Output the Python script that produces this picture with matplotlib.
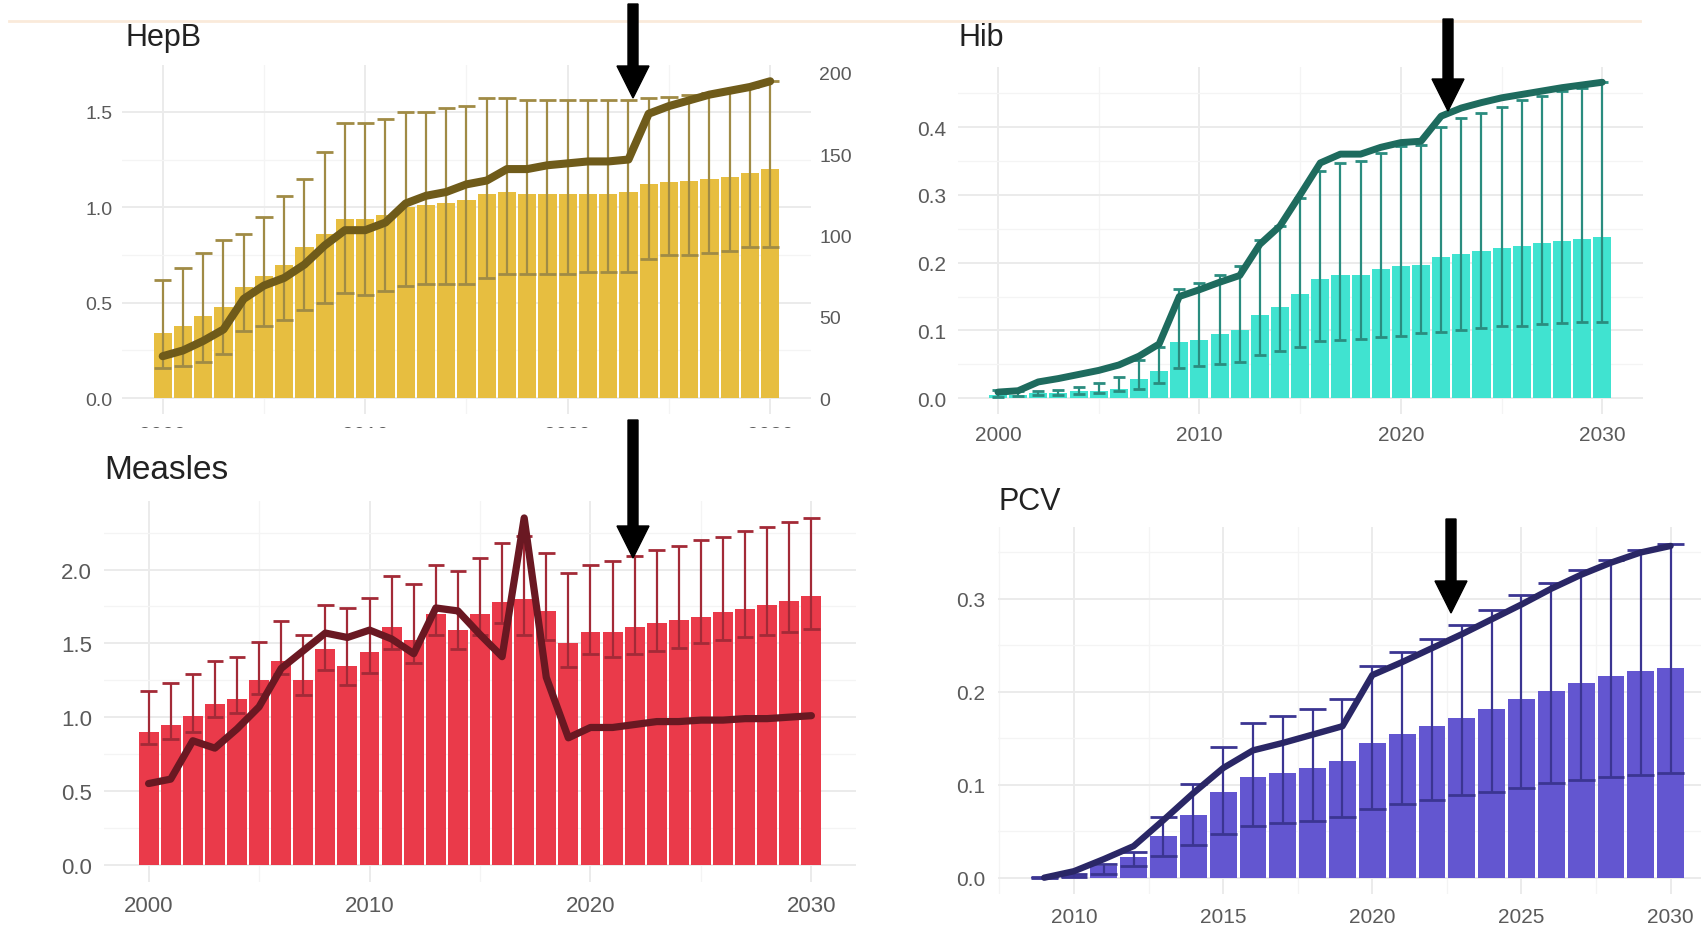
import matplotlib
matplotlib.use("Agg")
import matplotlib.pyplot as plt
from matplotlib.patches import FancyArrow, Rectangle
from matplotlib.lines import Line2D
from matplotlib.ticker import MultipleLocator, FormatStrFormatter
import numpy as np

plt.rcParams['font.family'] = ['Liberation Sans', 'DejaVu Sans']

W, H = 1701, 929

years = np.arange(2000, 2031)
pcvYears = np.arange(2009, 2031)

hepbBars = [0.34, 0.38, 0.43, 0.48, 0.58, 0.64, 0.70, 0.79, 0.86, 0.94, 0.94, 0.96, 1.00, 1.01, 1.02, 1.04,
            1.07, 1.08, 1.07, 1.07, 1.07, 1.07, 1.07, 1.08, 1.12, 1.13, 1.14, 1.15, 1.16, 1.18, 1.20]
hepbUpper = [0.62, 0.68, 0.76, 0.83, 0.86, 0.95, 1.06, 1.15, 1.29, 1.44, 1.44, 1.46, 1.50, 1.50, 1.52, 1.53,
             1.57, 1.57, 1.56, 1.56, 1.56, 1.56, 1.56, 1.56, 1.57, 1.58, 1.59, 1.60, 1.61, 1.63, 1.66]
hepbLower = [0.16, 0.17, 0.19, 0.23, 0.35, 0.38, 0.41, 0.46, 0.50, 0.55, 0.54, 0.56, 0.59, 0.60, 0.60, 0.60,
             0.63, 0.65, 0.65, 0.65, 0.65, 0.66, 0.66, 0.66, 0.73, 0.75, 0.75, 0.76, 0.77, 0.79, 0.79]
hepbLine = [0.22, 0.25, 0.30, 0.36, 0.52, 0.59, 0.63, 0.70, 0.80, 0.88, 0.88, 0.92, 1.02, 1.06, 1.08, 1.12,
            1.14, 1.20, 1.20, 1.22, 1.23, 1.24, 1.24, 1.25, 1.49, 1.53, 1.56, 1.59, 1.61, 1.63, 1.66]

hibBars = [0.005, 0.005, 0.007, 0.008, 0.010, 0.011, 0.013, 0.029, 0.040, 0.083, 0.086, 0.094, 0.100, 0.123,
           0.135, 0.153, 0.176, 0.181, 0.182, 0.190, 0.195, 0.197, 0.208, 0.212, 0.217, 0.222, 0.225, 0.229,
           0.232, 0.235, 0.238]
hibUpper = [0.012, 0.010, 0.011, 0.012, 0.017, 0.022, 0.031, 0.057, 0.076, 0.161, 0.170, 0.182, 0.195, 0.234,
            0.254, 0.295, 0.335, 0.347, 0.350, 0.362, 0.372, 0.374, 0.400, 0.414, 0.421, 0.430, 0.440, 0.446,
            0.453, 0.458, 0.466]
hibLower = [0.002, 0.003, 0.004, 0.005, 0.006, 0.008, 0.011, 0.013, 0.022, 0.044, 0.047, 0.050, 0.054, 0.063,
            0.069, 0.076, 0.085, 0.086, 0.087, 0.090, 0.092, 0.096, 0.098, 0.100, 0.103, 0.106, 0.107, 0.110,
            0.111, 0.112, 0.113]
hibLine = [0.009, 0.011, 0.024, 0.029, 0.035, 0.041, 0.049, 0.062, 0.080, 0.150, 0.160, 0.171, 0.181, 0.227,
           0.254, 0.300, 0.347, 0.360, 0.360, 0.370, 0.377, 0.379, 0.416, 0.428, 0.436, 0.443, 0.448, 0.453,
           0.458, 0.462, 0.466]

measlesBars = [0.90, 0.95, 1.01, 1.09, 1.12, 1.25, 1.38, 1.25, 1.46, 1.35, 1.44, 1.61, 1.52, 1.70, 1.59, 1.70,
               1.78, 1.80, 1.72, 1.50, 1.58, 1.58, 1.61, 1.64, 1.66, 1.68, 1.71, 1.73, 1.76, 1.79, 1.82]
measlesUpper = [1.18, 1.23, 1.29, 1.38, 1.41, 1.51, 1.65, 1.56, 1.76, 1.74, 1.81, 1.96, 1.90, 2.03, 1.99, 2.08,
                2.18, 2.23, 2.11, 1.98, 2.03, 2.06, 2.09, 2.13, 2.16, 2.20, 2.22, 2.26, 2.29, 2.32, 2.35]
measlesLower = [0.82, 0.85, 0.90, 1.00, 1.03, 1.16, 1.29, 1.15, 1.32, 1.22, 1.30, 1.46, 1.37, 1.56, 1.46, 1.56,
                1.64, 1.56, 1.52, 1.34, 1.43, 1.41, 1.43, 1.45, 1.47, 1.50, 1.52, 1.54, 1.56, 1.58, 1.60]
measlesLine = [0.55, 0.58, 0.84, 0.79, 0.92, 1.07, 1.33, 1.45, 1.57, 1.54, 1.59, 1.53, 1.43, 1.74, 1.72, 1.56,
               1.41, 2.35, 1.27, 0.86, 0.93, 0.93, 0.95, 0.97, 0.97, 0.98, 0.98, 0.99, 0.99, 1.00, 1.01]

pcvBars = [0.0005, 0.003, 0.013, 0.022, 0.045, 0.068, 0.092, 0.108, 0.113, 0.118, 0.126, 0.145, 0.155, 0.163,
           0.172, 0.182, 0.192, 0.201, 0.209, 0.217, 0.222, 0.226]
pcvUpper = [0.001, 0.004, 0.015, 0.028, 0.065, 0.101, 0.141, 0.166, 0.174, 0.182, 0.192, 0.228, 0.243, 0.257,
            0.272, 0.288, 0.304, 0.317, 0.331, 0.342, 0.353, 0.359]
pcvLower = [0.0, 0.001, 0.004, 0.013, 0.023, 0.035, 0.047, 0.056, 0.059, 0.061, 0.065, 0.074, 0.079, 0.084,
            0.089, 0.092, 0.096, 0.102, 0.105, 0.108, 0.110, 0.113]
pcvLine = [0.0, 0.007, 0.020, 0.034, 0.062, 0.091, 0.118, 0.137, 0.145, 0.154, 0.163, 0.218, 0.232, 0.247,
           0.262, 0.278, 0.294, 0.311, 0.326, 0.339, 0.350, 0.357]

hepbRightScale = 117.3  # right axis units per left axis unit


def makeAxes(fig, xlim, ylim, xRef, yRef):
    """
    place an axes so two known ticks land on the pixel positions measured in the picture
    """
    (xa, pa), (xb, pb) = xRef
    sx = (pb - pa) / (xb - xa)
    left = pa + (xlim[0] - xa) * sx
    right = pa + (xlim[1] - xa) * sx
    (ya, qa), (yb, qb) = yRef
    sy = (qb - qa) / (yb - ya)
    bottom = qa + (ylim[0] - ya) * sy
    top = qa + (ylim[1] - ya) * sy
    ax = fig.add_axes([left / W, 1 - bottom / H, (right - left) / W, (bottom - top) / H])
    ax.set_xlim(*xlim)
    ax.set_ylim(*ylim)
    for s in ax.spines.values():
        s.set_visible(False)
    ax.set_axisbelow(True)
    ax.grid(which='major', color='#EBEBEB', lw=1.4)
    ax.grid(which='minor', color='#F4F4F4', lw=0.9)
    ax.tick_params(which='both', length=0, labelcolor='#5A5A5A')
    return ax


def drawPanel(ax, xs, bars, lower, upper, line, barColor, errColor, lineColor, capWidth, lineWidth):
    xs = np.array(xs)
    ax.bar(xs, bars, width=0.9, color=barColor, zorder=2)
    ax.vlines(xs, lower, upper, color=errColor, lw=1.6, zorder=3)
    ax.hlines(upper, xs - capWidth / 2, xs + capWidth / 2, color=errColor, lw=2.0, zorder=3)
    ax.hlines(lower, xs - capWidth / 2, xs + capWidth / 2, color=errColor, lw=2.0, zorder=3)
    ax.plot(xs, line, color=lineColor, lw=lineWidth, solid_joinstyle='round', solid_capstyle='round', zorder=4)


def addArrow(fig, x, yTail, yTip):
    arrow = FancyArrow(x / W, 1 - yTail / H, 0, -(yTip - yTail) / H, width=10 / W,
                       head_width=32 / W, head_length=32 / H, length_includes_head=True,
                       transform=fig.transFigure, color='black', zorder=7)
    fig.add_artist(arrow)


fig = plt.figure(figsize=(W / 100, H / 100), dpi=100)

# HepB
ax1 = makeAxes(fig, (1998, 2032), (-0.083, 1.743), ((2000, 162.7), (2030, 770.2)), ((0, 399.2), (1.5, 112.8)))
drawPanel(ax1, years, hepbBars, hepbLower, hepbUpper, hepbLine, '#E7BE40', '#A08B45', '#6F5B1A', 0.85, 5.8)
ax1.xaxis.set_major_locator(MultipleLocator(10))
ax1.xaxis.set_minor_locator(MultipleLocator(5))
ax1.yaxis.set_major_locator(MultipleLocator(0.5))
ax1.yaxis.set_minor_locator(MultipleLocator(0.25))
ax1.yaxis.set_major_formatter(FormatStrFormatter('%.1f'))
ax1.tick_params(axis='y', labelsize=14, pad=7)
ax1.tick_params(axis='x', labelsize=15, pad=8)
sec = ax1.secondary_yaxis('right', functions=(lambda y: y * hepbRightScale, lambda y: y / hepbRightScale))
sec.set_yticks([0, 50, 100, 150, 200])
sec.tick_params(length=0, labelsize=14, pad=6, labelcolor='#5A5A5A')
for s in sec.spines.values():
    s.set_visible(False)

# Hib
ax2 = makeAxes(fig, (1998, 2032), (-0.0233, 0.489), ((2000, 998), (2030, 1602.3)), ((0, 399.2), (0.4, 128)))
drawPanel(ax2, years, hibBars, hibLower, hibUpper, hibLine, '#40E3D0', '#2A8C7F', '#1E6B5E', 0.6, 5.0)
ax2.xaxis.set_major_locator(MultipleLocator(10))
ax2.xaxis.set_minor_locator(MultipleLocator(5))
ax2.yaxis.set_major_locator(MultipleLocator(0.1))
ax2.yaxis.set_minor_locator(MultipleLocator(0.05))
ax2.yaxis.set_major_formatter(FormatStrFormatter('%.1f'))
ax2.tick_params(axis='both', labelsize=15, pad=8)

# Measles
ax3 = makeAxes(fig, (1998, 2032), (-0.1175, 2.4675), ((2000, 148.6), (2030, 811.4)), ((0, 865.7), (2.0, 570.6)))
drawPanel(ax3, years, measlesBars, measlesLower, measlesUpper, measlesLine, '#EA3A4A', '#A32A37', '#6A1822', 0.75, 5.2)
ax3.xaxis.set_major_locator(MultipleLocator(10))
ax3.xaxis.set_minor_locator(MultipleLocator(5))
ax3.yaxis.set_major_locator(MultipleLocator(0.5))
ax3.yaxis.set_minor_locator(MultipleLocator(0.25))
ax3.yaxis.set_major_formatter(FormatStrFormatter('%.1f'))
ax3.tick_params(axis='both', labelsize=16, pad=9)

# PCV
ax4 = makeAxes(fig, (2007.45, 2031.55), (-0.018, 0.377), ((2010, 1074), (2030, 1670.6)), ((0, 878.7), (0.3, 599.9)))
drawPanel(ax4, pcvYears, pcvBars, pcvLower, pcvUpper, pcvLine, '#6356D0', '#3B3592', '#2A2766', 0.9, 4.6)
ax4.xaxis.set_major_locator(MultipleLocator(5))
ax4.xaxis.set_minor_locator(MultipleLocator(2.5))
ax4.yaxis.set_major_locator(MultipleLocator(0.1))
ax4.yaxis.set_minor_locator(MultipleLocator(0.05))
ax4.yaxis.set_major_formatter(FormatStrFormatter('%.1f'))
ax4.tick_params(axis='both', labelsize=15, pad=9)

# titles
fig.text(125 / W, 1 - 46.5 / H, "HepB", fontsize=22, color='#222222', va='baseline')
fig.text(958 / W, 1 - 46.5 / H, "Hib", fontsize=22, color='#222222', va='baseline')
fig.text(104 / W, 1 - 479.5 / H, "Measles", fontsize=24, color='#222222', va='baseline')
fig.text(998 / W, 1 - 510 / H, "PCV", fontsize=22, color='#222222', va='baseline')

# faint line across the top and the cover that hides the HepB year labels
fig.add_artist(Line2D([9 / W, 1640 / W], [1 - 22 / H, 1 - 22 / H], color='#FAEADA', lw=2, zorder=1))
fig.add_artist(Rectangle((90 / W, 1 - 452 / H), 770 / W, 23 / H, transform=fig.transFigure,
                         facecolor='white', edgecolor='none', zorder=5))

addArrow(fig, 633, 5, 99)
addArrow(fig, 1448, 20, 112)
addArrow(fig, 633, 421, 559)
addArrow(fig, 1451, 520, 614)

fig.savefig("out.png", dpi=100, facecolor='white')
